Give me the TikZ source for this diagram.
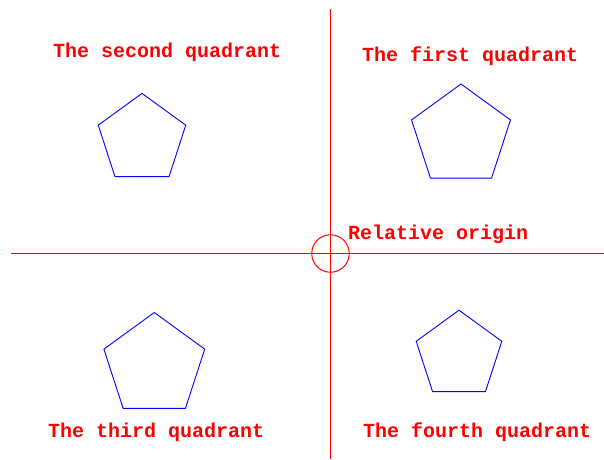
\documentclass[tikz,border=0pt]{standalone}
\usepackage{fontspec}
\setmonofont{Liberation Mono}
\usepackage{tikz}
\usetikzlibrary{shapes.geometric}

\tikzset{
  axis/.style={red, line width=1pt},
  label/.style={red, font=\ttfamily\bfseries\fontsize{20}{24}\selectfont, anchor=base west, inner sep=0pt},
  penta/.style={regular polygon, regular polygon sides=5, draw=blue, line width=0.9pt, inner sep=0pt}
}

\begin{document}
\begin{tikzpicture}[x=1pt, y=-1pt]
    \useasboundingbox (0,0) rectangle (604,459);

    % 1. Hai truc do va vong tron goc tuong doi
    \coordinate (top) at (330.5,9);
    \coordinate (bottom) at (330.5,459);
    \coordinate (left) at (11,253.5);
    \coordinate (right) at (604,253.5);
    \draw[axis] (top) -- (bottom);
    \draw[axis] (left) -- (right);
    \node[draw=red, line width=1pt, circle, minimum size=37.5pt, inner sep=0pt] (origin) at (330.5,253.5) {};

    % 2. Cac ngu giac deu mau xanh
    \node[penta, minimum size=92pt] (second) at (142,139.4) {};
    \node[penta, minimum size=104pt] (first) at (461,136) {};
    \node[penta, minimum size=106pt] (third) at (154.3,365.5) {};
    \node[penta, minimum size=90pt] (fourth) at (459,355.2) {};

    % 3. Nhan chu mau do
    \node[label] (lsecond) at (53,57) {The second quadrant};
    \node[label] (lfirst) at (362,61) {The first quadrant};
    \node[label] (lorigin) at (348,239.5) {Relative origin};
    \node[label] (lthird) at (48,437) {The third quadrant};
    \node[label] (lfourth) at (363,437) {The fourth quadrant};

\end{tikzpicture}
\end{document}
